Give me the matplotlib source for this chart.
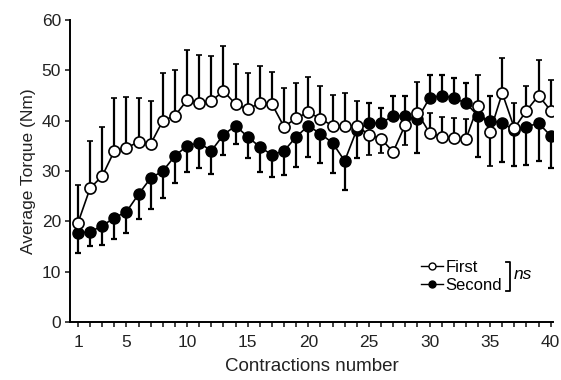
import numpy as np
import matplotlib
matplotlib.use('Agg')
import matplotlib.pyplot as plt
from matplotlib.lines import Line2D

plt.rcParams['font.family'] = ['Liberation Sans', 'DejaVu Sans']

contraction = np.arange(1, 41)

first_mean = [19.7, 26.6, 29.0, 34.0, 34.6, 35.8, 35.4, 40.0, 41.0, 44.1,
              43.6, 43.9, 45.9, 43.3, 42.3, 43.5, 43.3, 38.8, 40.5, 41.7,
              40.4, 39.0, 39.0, 39.0, 37.2, 36.4, 33.8, 39.2, 41.6, 37.6,
              36.8, 36.6, 36.3, 43.0, 37.8, 45.5, 38.5, 42.0, 45.0, 42.0]
first_up = [7.5, 9.4, 9.8, 10.5, 10.1, 8.7, 8.5, 9.5, 9.0, 10.0,
            9.5, 9.0, 9.0, 8.0, 7.2, 7.4, 6.4, 7.7, 7.0, 7.0,
            6.5, 6.1, 6.5, 5.0, 0, 0, 0, 0, 6.0, 4.0,
            4.0, 4.0, 4.0, 6.0, 0, 7.0, 5.0, 5.0, 7.0, 6.0]
first_down = [0] * 24 + [4.0, 2.8, 0, 4.0] + [0] * 6 + [6.9] + [0] * 5

second_mean = [17.7, 17.9, 19.1, 20.7, 21.9, 25.4, 28.6, 30.0, 33.0, 35.0,
               35.6, 34.0, 37.2, 39.0, 36.8, 34.8, 33.2, 34.0, 36.8, 39.0,
               37.4, 35.6, 32.0, 38.2, 39.5, 39.5, 41.0, 41.0, 40.3, 44.5,
               45.0, 44.5, 43.5, 41.0, 40.0, 39.5, 38.2, 38.8, 39.5, 37.0]
second_down = [4.0, 2.8, 3.8, 4.2, 4.2, 4.9, 6.1, 5.3, 5.4, 5.2,
               5.0, 4.6, 4.0, 3.6, 4.2, 5.0, 4.4, 4.8, 6.0, 6.2,
               5.8, 6.0, 5.8, 5.6, 0, 0, 0, 0, 6.7, 0,
               0, 0, 0, 8.2, 0, 7.7, 7.3, 7.7, 7.5, 6.4]
second_up = [0] * 24 + [4.0, 3.0, 4.0, 4.0, 0, 4.5, 4.0, 4.0, 4.0, 0, 5.0] + [0] * 5

fig = plt.figure(figsize=(5.61, 3.80), dpi=100)
ax = fig.add_axes([0.125, 0.153, 0.861, 0.794])

ax.errorbar(contraction, second_mean, yerr=[second_down, second_up], fmt='-o',
            color='black', mfc='black', mec='black', ms=8, lw=1.2,
            elinewidth=1.6, capsize=2.5, capthick=1.6, zorder=2)
ax.errorbar(contraction, first_mean, yerr=[first_down, first_up], fmt='-o',
            color='black', mfc='white', mec='black', ms=8, lw=1.2, mew=1.2,
            elinewidth=1.6, capsize=2.5, capthick=1.6, zorder=3)

ax.set_xlim(0.35, 40.2)
ax.set_ylim(0, 60)
ax.set_yticks(range(0, 61, 10))
ax.set_xticks([1, 5, 10, 15, 20, 25, 30, 35, 40])
ax.set_xticks(contraction, minor=True)
ax.tick_params(axis='both', which='both', direction='out', length=3.5, width=1.2,
               labelsize=12.5, colors='#222222')
ax.tick_params(axis='x', pad=6)
ax.tick_params(axis='y', pad=3)
for s in ['top', 'right']:
    ax.spines[s].set_visible(False)
for s in ['left', 'bottom']:
    ax.spines[s].set_linewidth(1.4)

ax.set_xlabel('Contractions number', fontsize=13.5, labelpad=6, color='#222222')
ax.set_ylabel('Average Torque (Nm)', fontsize=12.5, labelpad=4, color='#222222')

handles = [Line2D([], [], color='black', marker='o', mfc='white', ms=5, lw=1),
           Line2D([], [], color='black', marker='o', mfc='black', ms=5, lw=1)]
ax.legend(handles, ['First', 'Second'], loc='center',
          bbox_to_anchor=(0.81, 0.15), frameon=False, fontsize=12,
          handlelength=1.3, handletextpad=0.15, labelspacing=0.2)

ax.plot([0.902, 0.911, 0.911, 0.902], [0.198, 0.198, 0.103, 0.103],
        transform=ax.transAxes, color='black', lw=1.3, clip_on=False)
ax.text(0.918, 0.158, 'ns', transform=ax.transAxes, fontsize=12.5,
        style='italic', va='center', ha='left')

fig.savefig('out.png', dpi=100)
